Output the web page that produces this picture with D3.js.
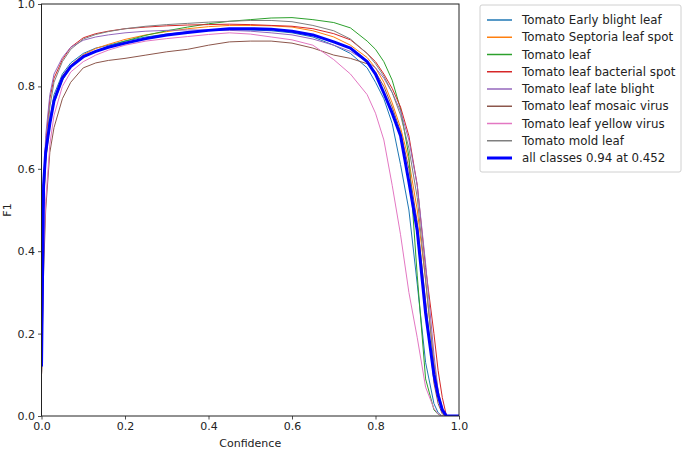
<!DOCTYPE html>
<html>
<head>
<meta charset="utf-8">
<script src="https://cdn.jsdelivr.net/npm/d3@7"></script>
<style>
  body { margin: 0; background: #fff; }
  text { font-family: "DejaVu Sans", sans-serif; }
</style>
</head>
<body>
<div id="chart"></div>
<script>
// confidence grid shared by all curves
var conf = [0, 0.005, 0.01, 0.02, 0.03, 0.05, 0.07, 0.1, 0.13, 0.16, 0.2, 0.25, 0.3, 0.35, 0.4, 0.45,
  0.5, 0.55, 0.6, 0.65, 0.7, 0.74, 0.78, 0.8, 0.82, 0.84, 0.86, 0.88, 0.9, 0.92, 0.94, 0.95, 0.96,
  0.97, 0.98, 1.0];

var classNames = [
  "Tomato Early blight leaf",
  "Tomato Septoria leaf spot",
  "Tomato leaf",
  "Tomato leaf bacterial spot",
  "Tomato leaf late blight",
  "Tomato leaf mosaic virus",
  "Tomato leaf yellow virus",
  "Tomato mold leaf",
];
var classColors = ["#1f77b4", "#ff7f0e", "#2ca02c", "#d62728", "#9467bd", "#8c564b", "#e377c2", "#7f7f7f"];

var earlyBlight = [0.1, 0.55, 0.64, 0.72, 0.78, 0.83, 0.857, 0.88, 0.893, 0.9, 0.91, 0.92, 0.927, 0.932,
  0.936, 0.938, 0.937, 0.935, 0.93, 0.92, 0.9, 0.88, 0.845, 0.81, 0.77, 0.71, 0.61, 0.5, 0.32, 0.13,
  0.03, 0.008, 0, 0, 0, 0];
var septoria = [0.1, 0.5, 0.62, 0.71, 0.77, 0.825, 0.852, 0.877, 0.892, 0.902, 0.914, 0.925, 0.933, 0.94,
  0.945, 0.948, 0.948, 0.947, 0.944, 0.935, 0.92, 0.9, 0.87, 0.845, 0.81, 0.76, 0.7, 0.62, 0.5, 0.33,
  0.13, 0.06, 0.02, 0, 0, 0];
var leaf = [0.1, 0.52, 0.62, 0.71, 0.76, 0.815, 0.847, 0.87, 0.885, 0.897, 0.91, 0.924, 0.935, 0.944,
  0.952, 0.958, 0.962, 0.966, 0.967, 0.962, 0.955, 0.942, 0.91, 0.89, 0.86, 0.815, 0.745, 0.63, 0.34,
  0.09, 0.015, 0.004, 0, 0, 0, 0];
var bacterialSpot = [0.1, 0.55, 0.66, 0.77, 0.82, 0.865, 0.895, 0.918, 0.928, 0.934, 0.94, 0.944, 0.947,
  0.949, 0.95, 0.951, 0.95, 0.948, 0.946, 0.94, 0.928, 0.913, 0.88, 0.86, 0.83, 0.795, 0.75, 0.68, 0.56,
  0.36, 0.2, 0.11, 0.045, 0, 0, 0];
var lateBlight = [0.1, 0.56, 0.68, 0.78, 0.83, 0.87, 0.895, 0.912, 0.92, 0.925, 0.93, 0.934, 0.936,
  0.937, 0.937, 0.936, 0.934, 0.93, 0.925, 0.915, 0.9, 0.885, 0.86, 0.845, 0.82, 0.785, 0.74, 0.67,
  0.56, 0.37, 0.15, 0.06, 0.01, 0, 0, 0];
var mosaicVirus = [0.1, 0.35, 0.5, 0.64, 0.7, 0.77, 0.81, 0.845, 0.857, 0.863, 0.868, 0.876, 0.884, 0.89,
  0.9, 0.908, 0.91, 0.91, 0.905, 0.893, 0.876, 0.868, 0.855, 0.835, 0.8, 0.75, 0.69, 0.6, 0.47, 0.28,
  0.08, 0.03, 0.005, 0, 0, 0];
var yellowVirus = [0.1, 0.4, 0.52, 0.66, 0.73, 0.8, 0.835, 0.86, 0.876, 0.888, 0.9, 0.91, 0.916, 0.921,
  0.926, 0.93, 0.927, 0.92, 0.913, 0.9, 0.865, 0.83, 0.78, 0.735, 0.67, 0.56, 0.44, 0.3, 0.19, 0.07,
  0.018, 0.005, 0, 0, 0, 0];
var moldLeaf = [0.1, 0.5, 0.63, 0.75, 0.81, 0.86, 0.89, 0.915, 0.926, 0.933, 0.94, 0.946, 0.95, 0.953,
  0.956, 0.958, 0.96, 0.96, 0.957, 0.948, 0.935, 0.915, 0.88, 0.855, 0.825, 0.785, 0.73, 0.65, 0.53,
  0.33, 0.12, 0.05, 0.01, 0, 0, 0];
var allClasses = [0.12, 0.56, 0.64, 0.71, 0.765, 0.82, 0.848, 0.872, 0.885, 0.895, 0.905, 0.916, 0.925,
  0.931, 0.936, 0.94, 0.94, 0.939, 0.934, 0.925, 0.908, 0.893, 0.86, 0.83, 0.784, 0.735, 0.68, 0.568,
  0.45, 0.25, 0.1, 0.05, 0.015, 0, 0, 0];
var allLabel = "all classes 0.94 at 0.452";

var classSeries = [earlyBlight, septoria, leaf, bacterialSpot, lateBlight, mosaicVirus, yellowVirus, moldLeaf];

var ticks = [0, 0.2, 0.4, 0.6, 0.8, 1.0];

var margin = { top: 4, right: 226, bottom: 34, left: 41.5 },
  width = 685 - margin.left - margin.right,
  height = 450 - margin.top - margin.bottom;

var svgRoot = d3
  .select("#chart")
  .append("svg")
  .attr("width", 685)
  .attr("height", 450);

var svg = svgRoot
  .append("g")
  .attr("transform", "translate(" + margin.left + "," + margin.top + ")");

var x = d3.scaleLinear().domain([0, 1]).range([0, width]);
var y = d3.scaleLinear().domain([0, 1]).range([height, 0]);

svg
  .append("clipPath")
  .attr("id", "plot-clip")
  .append("rect")
  .attr("width", width)
  .attr("height", height);

var line = d3
  .line()
  .x(function (d) { return x(d[0]); })
  .y(function (d) { return y(d[1]); });

function pairs(values) {
  return conf.map(function (c, i) { return [c, values[i]]; });
}

var curves = svg.append("g").attr("clip-path", "url(#plot-clip)");

classSeries.forEach(function (vals, i) {
  curves
    .append("path")
    .attr("d", line(pairs(vals)))
    .attr("fill", "none")
    .attr("stroke", classColors[i])
    .attr("stroke-width", 1)
    .attr("stroke-linejoin", "round");
});

curves
  .append("path")
  .attr("d", line(pairs(allClasses)))
  .attr("fill", "none")
  .attr("stroke", "blue")
  .attr("stroke-width", 3)
  .attr("stroke-linejoin", "round");

// axes, matplotlib style
var fmt = d3.format(".1f");
var xAxis = svg
  .append("g")
  .attr("transform", "translate(0," + height + ")")
  .call(d3.axisBottom(x).tickValues(ticks).tickFormat(fmt).tickSize(3.5).tickPadding(3));
var yAxis = svg
  .append("g")
  .call(d3.axisLeft(y).tickValues(ticks).tickFormat(fmt).tickSize(3.5).tickPadding(3));

[xAxis, yAxis].forEach(function (a) {
  a.select(".domain").remove();
  a.selectAll("line").attr("stroke", "#222").attr("stroke-width", 0.8);
  a.selectAll("text")
    .style("font-family", "DejaVu Sans")
    .style("font-size", "11px")
    .attr("fill", "#222");
});

svg
  .append("rect")
  .attr("width", width)
  .attr("height", height)
  .attr("fill", "none")
  .attr("stroke", "#222")
  .attr("stroke-width", 1);

svg
  .append("text")
  .attr("text-anchor", "middle")
  .attr("x", width / 2)
  .attr("y", height + 31)
  .style("font-size", "11px")
  .attr("fill", "#222")
  .text("Confidence");

svg
  .append("text")
  .attr("text-anchor", "middle")
  .attr("transform", "rotate(-90)")
  .attr("x", -height / 2)
  .attr("y", -margin.left + 11)
  .style("font-size", "11px")
  .attr("fill", "#222")
  .text("F1");

// legend
var legendItems = classNames.map(function (n, i) {
  return { name: n, color: classColors[i], w: 1.5 };
});
legendItems.push({ name: allLabel, color: "blue", w: 3 });

var gLegend = svgRoot.append("g").attr("transform", "translate(480,5)");

gLegend
  .append("rect")
  .attr("width", 201)
  .attr("height", 167)
  .attr("rx", 2)
  .attr("fill", "#fff")
  .attr("stroke", "#d0d0d0")
  .attr("stroke-width", 1);

var legend = gLegend
  .selectAll(".legend")
  .data(legendItems)
  .enter()
  .append("g")
  .attr("class", "legend")
  .attr("transform", function (d, i) {
    return "translate(0," + (15 + i * 17.25) + ")";
  });

legend
  .append("line")
  .attr("x1", 7)
  .attr("x2", 32)
  .attr("stroke", (d) => d.color)
  .attr("stroke-width", (d) => d.w);

legend
  .append("text")
  .attr("x", 42)
  .attr("y", 4.2)
  .style("font-size", "11.8px")
  .attr("fill", "#222")
  .text((d) => d.name);
</script>
</body>
</html>
